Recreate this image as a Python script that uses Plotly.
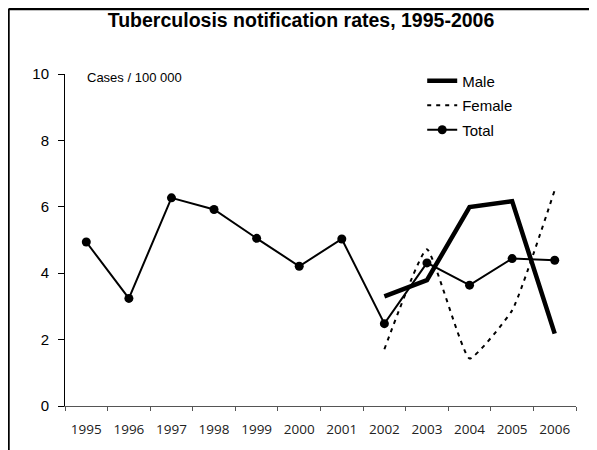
import plotly.graph_objects as go

years = ["1995", "1996", "1997", "1998", "1999", "2000", "2001", "2002", "2003", "2004", "2005", "2006"]
total = [4.94, 3.24, 6.27, 5.92, 5.05, 4.21, 5.03, 2.48, 4.31, 3.64, 4.44, 4.39]
male_years = ["2002", "2003", "2004", "2005", "2006"]
male = [3.30, 3.79, 5.99, 6.17, 2.18]
female_years = ["2002", "2003", "2004", "2005", "2006"]
female = [1.71, 4.72, 1.43, 2.88, 6.50]
y_ticks = [0, 2, 4, 6, 8, 10]

# page body has an 8px margin; the figure is sized to fit the 597x450 window
OFF = 8
W, H = 597 - OFF, 450 - OFF
# plot area in page pixels
PL, PT, PR, PB = 65, 73.5, 575.7, 405.7
L, T = PL - OFF, PT - OFF
R, B = W - (PR - OFF), H - (PB - OFF)

fig = go.Figure()
fig.add_trace(go.Scatter(x=male_years, y=male, name="Male", mode="lines", legendgroup="m",
                         line=dict(color="black", width=4.5)))
fig.add_trace(go.Scatter(x=female_years, y=female, name="Female", mode="lines", legendgroup="f",
                         line=dict(color="black", width=2, dash="4px,5px", shape="spline", smoothing=0.4)))
fig.add_trace(go.Scatter(x=years, y=total, name="Total", mode="lines+markers", legendgroup="t",
                         line=dict(color="black", width=2),
                         marker=dict(color="black", size=9, symbol="circle")))

pw = PR - PL
ph = PB - PT
def px_x(p):
    return (p - PL) / pw
def px_y(p):
    return (PB - p) / ph

fig.update_layout(
    width=W, height=H,
    margin=dict(l=L, r=R, t=T, b=B, pad=0, autoexpand=False),
    paper_bgcolor="white", plot_bgcolor="white",
    title=dict(text="<b>Tuberculosis notification rates, 1995-2006</b>",
               font=dict(family="Liberation Sans", size=19.5, color="black"),
               x=(301 - OFF) / W, xref="container", xanchor="center",
               y=1 - (20 - OFF) / H, yref="container", yanchor="middle", automargin=False),
    showlegend=True,
    legend=dict(x=px_x(422), y=px_y(64), xanchor="left", yanchor="top",
                bgcolor="rgba(0,0,0,0)", borderwidth=0,
                font=dict(family="Liberation Sans", size=15, color="black"),
                tracegroupgap=2),
    xaxis=dict(type="category", categoryorder="array", categoryarray=years,
               range=[-0.5, 11.5], showgrid=False, zeroline=False, automargin=False,
               showline=True, linecolor="#555555", linewidth=1,
               ticks="outside", tickson="boundaries", ticklen=4, tickcolor="#555555",
               tickangle=0, ticklabelstandoff=11,
               tickfont=dict(family="Open Sans", size=13.5, color="#222222")),
    yaxis=dict(range=[0, 10], tickvals=y_ticks, showgrid=False, zeroline=False, automargin=False,
               showline=True, linecolor="black", linewidth=1,
               ticks="outside", ticklen=6, tickcolor="black", ticklabelstandoff=6,
               tickfont=dict(family="Liberation Sans", size=15, color="black")),
    annotations=[dict(text="Cases / 100 000", xref="paper", yref="paper",
                      x=px_x(85), y=px_y(77), xanchor="left", yanchor="middle",
                      showarrow=False, font=dict(family="Liberation Sans", size=13, color="black"))],
    shapes=[
        dict(type="line", xref="paper", yref="paper", x0=px_x(8.5), x1=px_x(8.5), y0=px_y(470), y1=px_y(8.5),
             line=dict(color="black", width=2.5)),
        dict(type="line", xref="paper", yref="paper", x0=px_x(8.5), x1=px_x(620), y0=px_y(8.5), y1=px_y(8.5),
             line=dict(color="black", width=2.5)),
    ],
)

fig.write_html("out.html")
